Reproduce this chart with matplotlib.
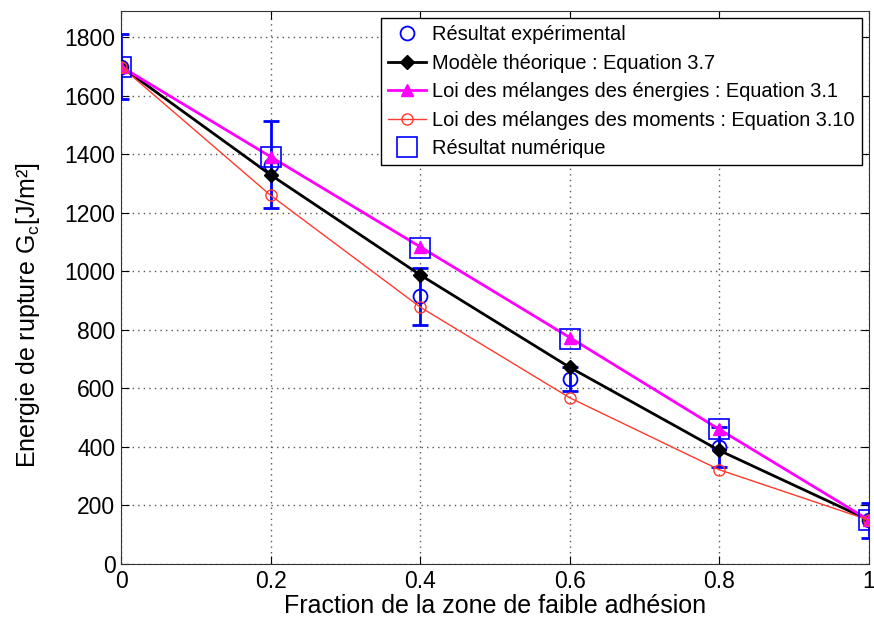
import matplotlib.pyplot as plt

plt.rcParams['font.family'] = ['Liberation Sans', 'DejaVu Sans']

# Data
fraction = [0, 0.2, 0.4, 0.6, 0.8, 1.0]
exp_val = [1700, 1365, 915, 632, 400, 150]
exp_err = [110, 150, 98, 42, 68, 60]
theorique = [1700, 1330, 988, 672, 388, 150]
energies = [1700, 1392, 1084, 774, 460, 150]
moments = [1700, 1260, 878, 568, 322, 150]
numerique = [1700, 1390, 1080, 770, 460, 150]

fig = plt.figure(figsize=(8.74, 6.26), dpi=100)
ax = fig.add_axes([121/874, 1 - 564/626, 748/874, 553/626])

# Experimental with error bars
ax.errorbar(fraction, exp_val, yerr=exp_err, fmt='none', ecolor='blue',
            elinewidth=2, capsize=6, capthick=2, zorder=3)
h_exp, = ax.plot(fraction, exp_val, 'o', color='blue', mfc='none', ms=10, mew=1.3,
                 label='Résultat expérimental', zorder=3)
h_th, = ax.plot(fraction, theorique, '-D', color='black', ms=7, lw=2,
                label='Modèle théorique : Equation 3.7', zorder=4)
h_en, = ax.plot(fraction, energies, '-^', color='magenta', ms=9, lw=2,
                label='Loi des mélanges des énergies : Equation 3.1', zorder=4)
h_mo, = ax.plot(fraction, moments, '-o', color='#ff3b2f', mfc='none', ms=8, lw=1,
                label='Loi des mélanges des moments : Equation 3.10', zorder=4)
h_nu, = ax.plot(fraction, numerique, 's', color='blue', mfc='none', ms=14, mew=1.2,
                label='Résultat numérique', zorder=5)

ax.set_xlim(0, 1)
ax.set_ylim(0, 1890)
ax.set_xticks([0, 0.2, 0.4, 0.6, 0.8, 1])
ax.set_xticklabels(['0', '0.2', '0.4', '0.6', '0.8', '1'])
ax.set_yticks(range(0, 1801, 200))
ax.grid(True, linestyle=(0, (1, 3)), color='#555555', lw=1)
ax.tick_params(direction='in', top=True, right=True, labelsize=16.5, length=6, pad=4)
for s in ax.spines.values():
    s.set_color('#333333')

ax.set_xlabel('Fraction de la zone de faible adhésion', fontsize=18, labelpad=1)
ax.set_ylabel('Energie de rupture G$_\\mathregular{c}$[J/m²]', fontsize=18)
ax.yaxis.set_label_coords(-0.105, 0.45)

leg = ax.legend(handles=[h_exp, h_th, h_en, h_mo, h_nu], loc='upper right',
                fontsize=14.4, fancybox=False, framealpha=1, edgecolor='black',
                handlelength=1.9, borderaxespad=0.35, labelspacing=0.48,
                borderpad=0.35, handletextpad=0.3)
leg.get_frame().set_linewidth(1)

fig.savefig('out.png', dpi=100)
